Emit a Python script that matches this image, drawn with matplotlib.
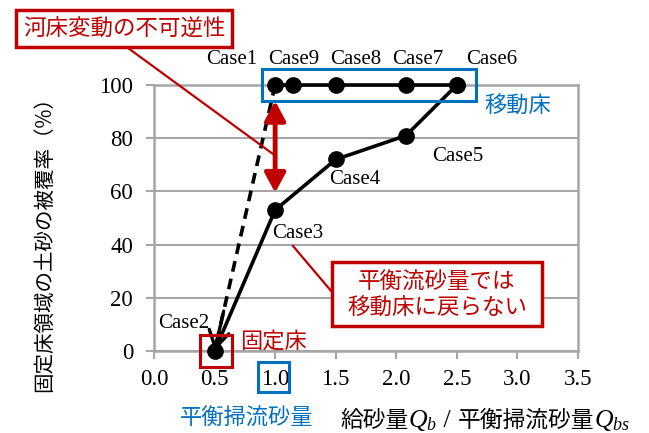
import matplotlib
matplotlib.use("Agg")
import matplotlib.pyplot as plt
from matplotlib.patches import Rectangle
from matplotlib.lines import Line2D

plt.rcParams['font.family'] = ['Noto Sans CJK JP', 'DejaVu Sans']
plt.rcParams['mathtext.fontset'] = 'custom'
plt.rcParams['mathtext.it'] = 'Liberation Serif:italic'
plt.rcParams['mathtext.rm'] = 'Liberation Serif'

# ---- data ----
cases_moving = ['Case1', 'Case9', 'Case8', 'Case7', 'Case6']
q_moving = [1.0, 1.15, 1.5, 2.08, 2.5]
cov_moving = [100, 100, 100, 100, 100]

cases_fixed = ['Case2', 'Case3', 'Case4', 'Case5']
q_fixed = [0.5, 1.0, 1.5, 2.08, 2.5]
cov_fixed = [0, 53, 72, 81, 100]

dashed_x = [1.0, 0.5]
dashed_y = [100, 0]

x_ticks = [0.0, 0.5, 1.0, 1.5, 2.0, 2.5, 3.0, 3.5]
y_ticks = [0, 20, 40, 60, 80, 100]

RED = '#C00000'
BLUE = '#0070C0'
GRID = '#A6A6A6'
SERIF = 'Liberation Serif'
CJK = ['Noto Sans CJK JP', 'DejaVu Sans']

W, H = 649, 433
fig = plt.figure(figsize=(W / 100, H / 100), dpi=100)
ax = fig.add_axes([154 / W, 1 - 351 / H, (578 - 154) / W, (351 - 85) / H])


def fx(px):
    return px / W


def fy(py):
    return 1 - py / H


ax.set_xlim(0, 3.5)
ax.set_ylim(0, 100)
ax.set_xticks(x_ticks)
ax.set_yticks(y_ticks)
ax.set_xticklabels([f'{v:.1f}' for v in x_ticks], fontfamily=SERIF, fontsize=16.5)
ax.set_yticklabels([str(v) for v in y_ticks], fontfamily=SERIF, fontsize=16.5)
ax.tick_params(axis='both', direction='out', length=6, width=1.5, color=GRID)
ax.tick_params(axis='y', pad=9)
ax.tick_params(axis='x', pad=7)
ax.grid(axis='y', color=GRID, lw=1.5)
ax.set_axisbelow(True)
for s in ax.spines.values():
    s.set_color(GRID)
    s.set_linewidth(1.8)

# series
ax.plot(q_fixed, cov_fixed, '-o', color='black', lw=2.6, ms=11, clip_on=False, zorder=5)
ax.plot(q_moving, cov_moving, '-o', color='black', lw=2.6, ms=11, clip_on=False, zorder=5)
ax.plot(dashed_x, dashed_y, '--', color='black', lw=2.6, dashes=(3, 2), zorder=4)
# arrowhead at end of dashed line
fr = 0.15
ax.annotate('', xy=(dashed_x[1], dashed_y[1]),
            xytext=(dashed_x[1] + fr * (dashed_x[0] - dashed_x[1]),
                    dashed_y[1] + fr * (dashed_y[0] - dashed_y[1])),
            arrowprops=dict(arrowstyle='->,head_length=0.5,head_width=0.3', lw=2.4,
                            color='black', mutation_scale=24, shrinkA=0, shrinkB=0),
            zorder=6)

# case labels
lab_kw = dict(textcoords='offset points', ha='center', va='center',
              fontfamily=SERIF, fontsize=15, annotation_clip=False)
offs_moving = [(-31.5, 18), (0, 18), (14.5, 18), (8.5, 18), (25, 18)]
for name, x, y, o in zip(cases_moving, q_moving, cov_moving, offs_moving):
    ax.annotate(name, (x, y), xytext=o, **lab_kw)
offs_fixed = [(-22, 20), (16, -17), (14, -14.5), (37, -15)]
for name, x, y, o in zip(cases_fixed, q_fixed, cov_fixed, offs_fixed):
    ax.annotate(name, (x, y), xytext=o, **lab_kw)

# red double arrow at x=1.0
ax.annotate('', xy=(q_fixed[1], 59.5), xytext=(q_fixed[1], 94),
            arrowprops=dict(arrowstyle='<|-|>,head_length=0.65,head_width=0.35',
                            lw=3.5, color=RED, mutation_scale=18, shrinkA=0, shrinkB=0),
            zorder=7)

# blue box around moving-bed points
ax.add_patch(Rectangle((0.89, 94), 2.66 - 0.89, 12, fill=False, ec=BLUE, lw=2.2,
                       clip_on=False, zorder=8))
# red box around Case2
ax.add_patch(Rectangle((0.38, -6), 0.26, 12, fill=False, ec=RED, lw=2.2,
                       clip_on=False, zorder=8))

# figure-level annotations
def frect(x0, y0, x1, y1, color, lw=2.5):
    fig.patches.append(Rectangle((fx(x0), fy(y1)), fx(x1) - fx(x0), fy(y0) - fy(y1),
                                 transform=fig.transFigure, fill=True, fc='white',
                                 ec=color, lw=lw, zorder=10))


def fline(x0, y0, x1, y1, color, lw=1.6):
    fig.lines.append(Line2D([fx(x0), fx(x1)], [fy(y0), fy(y1)],
                            transform=fig.transFigure, color=color, lw=lw, zorder=9))


frect(16, 10, 232, 47, RED)
fig.text(fx(124), fy(29), '河床変動の不可逆性', color=RED, fontsize=16.2,
         ha='center', va='center', family=CJK, zorder=11)
fline(128, 48, 273, 154, RED)

fline(293, 246, 332, 292, RED)
frect(332, 262, 542, 326, RED)
fig.text(fx(437), fy(282), '平衡流砂量では', color=RED, fontsize=16.2,
         ha='center', va='center', family=CJK, zorder=11)
fig.text(fx(437), fy(308), '移動床に戻らない', color=RED, fontsize=16.2,
         ha='center', va='center', family=CJK, zorder=11)

fig.text(fx(518), fy(106), '移動床', color=BLUE, fontsize=16,
         ha='center', va='center', family=CJK)
fig.text(fx(273), fy(341), '固定床', color=RED, fontsize=16,
         ha='center', va='center', family=CJK)

fig.patches.append(Rectangle((fx(258), fy(392)), fx(289) - fx(258), fy(362) - fy(392),
                             transform=fig.transFigure, fill=False, ec=BLUE, lw=2.2))
fig.text(fx(247), fy(418), '平衡掃流砂量', color=BLUE, fontsize=16,
         ha='center', va='center', family=CJK)

# y label
fig.text(fx(44), fy(239), '固定床領域の土砂の被覆率（%）', rotation=90, fontsize=14.8,
         ha='center', va='center', family=CJK)

# x label composed of pieces
renderer = fig.canvas.get_renderer()
pieces = [('給砂量', dict(family=CJK, fontsize=16.4)),
          ('$Q_b$', dict(fontsize=18.5)),
          (' / ', dict(family=SERIF, fontsize=18.5)),
          ('平衡掃流砂量', dict(family=CJK, fontsize=16.4)),
          ('$Q_{bs}$', dict(fontsize=18.5))]
xcur = 340
for s, kw in pieces:
    t = fig.text(fx(xcur), fy(427), s, ha='left', va='baseline', **kw)
    bb = t.get_window_extent(renderer=renderer)
    xcur += bb.width

fig.savefig('out.png', dpi=100)
